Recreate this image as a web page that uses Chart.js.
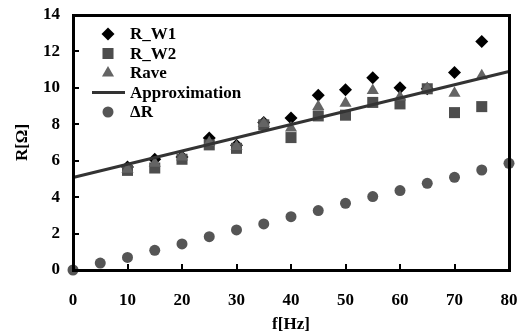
<!DOCTYPE html>
<html lang="en">
<head>
    <meta charset="UTF-8">
    <title>R vs f</title>
    <script src="https://cdn.jsdelivr.net/npm/chart.js"></script>
    <style>
        body {
            margin: 0;
            background: #ffffff;
        }
        #wrap {
            position: relative;
            width: 523px;
            height: 336px;
        }
        #wrap canvas {
            position: absolute;
            left: 0;
            top: 0;
        }
        .frame, .tick {
            position: absolute;
            box-sizing: border-box;
            pointer-events: none;
        }
        .frame {
            border: 3px solid #000;
        }
        .tick {
            background: #000;
        }
    </style>
</head>
<body>
    <div id="wrap">
        <canvas id="rChart" width="523" height="336"></canvas>
    </div>

    <script>
        // measured points
        const freq = [10, 15, 20, 25, 30, 35, 40, 45, 50, 55, 60, 65, 70, 75];
        const rW1 = [5.65, 6.08, 6.2, 7.25, 6.85, 8.1, 8.35, 9.6, 9.9, 10.55, 10.0, 9.95, 10.85, 12.55];
        const rW2 = [5.47, 5.6, 6.08, 6.87, 6.68, 7.97, 7.27, 8.46, 8.5, 9.2, 9.12, 9.95, 8.64, 8.97];
        const rAve = [5.53, 5.86, 6.2, 7.0, 6.78, 8.05, 7.8, 8.97, 9.16, 9.85, 9.5, 9.96, 9.71, 10.66];

        // linear approximation end points
        const fitFreq = [0, 80];
        const fitR = [5.08, 10.9];

        // delta R
        const dFreq = [0, 5, 10, 15, 20, 25, 30, 35, 40, 45, 50, 55, 60, 65, 70, 75, 80];
        const deltaR = [0, 0.38, 0.69, 1.08, 1.43, 1.83, 2.2, 2.53, 2.93, 3.26, 3.66, 4.03, 4.36, 4.76, 5.09, 5.49, 5.86];

        const FONT = "'Liberation Serif', 'Times New Roman', serif";
        const boldFont = { family: FONT, size: 17, weight: 'bold' };

        function pts(xs, ys) {
            return xs.map((x, i) => ({ x: x, y: ys[i] }));
        }

        function noPad(s) {
            s.paddingLeft = 0;
            s.paddingRight = 0;
            s.paddingTop = 0;
            s.paddingBottom = 0;
        }

        function drawMarker(g, style, x, y, r, color) {
            g.save();
            g.fillStyle = color;
            g.beginPath();
            if (style === 'rectRot') {
                g.moveTo(x - r, y);
                g.lineTo(x, y - r);
                g.lineTo(x + r, y);
                g.lineTo(x, y + r);
            } else if (style === 'rect') {
                const s = Math.SQRT1_2 * r;
                g.rect(x - s, y - s, 2 * s, 2 * s);
            } else if (style === 'triangle') {
                const a = 2 * Math.PI / 3;
                for (let k = 0; k < 3; k++) {
                    const px = x + Math.sin(a * k) * r;
                    const py = y - Math.cos(a * k) * r;
                    if (k === 0) g.moveTo(px, py); else g.lineTo(px, py);
                }
            } else {
                g.arc(x, y, r, 0, Math.PI * 2);
            }
            g.closePath();
            g.fill();
            g.restore();
        }

        // legend in the top-left of the plot
        const legendPlugin = {
            id: 'boxLegend',
            afterDraw(chart) {
                const g = chart.ctx;
                g.save();
                g.font = 'bold 17px ' + FONT;
                g.textBaseline = 'middle';
                let y = 34;
                chart.data.datasets.forEach(d => {
                    if (d.showLine) {
                        g.fillStyle = d.borderColor;
                        g.fillRect(92, y - 1.5, 33, 3);
                    } else {
                        drawMarker(g, d.pointStyle, 108, y, d.pointRadius, d.backgroundColor);
                    }
                    g.fillStyle = '#000';
                    g.fillText(d.label, 130, y + 1);
                    y += 19.5;
                });
                g.restore();
            }
        };

        const chart = new Chart(document.getElementById('rChart').getContext('2d'), {
            type: 'scatter',
            data: {
                datasets: [
                    {
                        label: 'R_W1',
                        data: pts(freq, rW1),
                        pointStyle: 'rectRot',
                        pointRadius: 6.5,
                        backgroundColor: '#000000',
                        borderWidth: 0,
                        order: 5,
                        clip: false
                    },
                    {
                        label: 'R_W2',
                        data: pts(freq, rW2),
                        pointStyle: 'rect',
                        pointRadius: 7.8,
                        backgroundColor: '#4d4d4d',
                        borderWidth: 0,
                        order: 4,
                        clip: false
                    },
                    {
                        label: 'Rave',
                        data: pts(freq, rAve),
                        pointStyle: 'triangle',
                        pointRadius: 7,
                        backgroundColor: '#646464',
                        borderWidth: 0,
                        order: 3,
                        clip: false
                    },
                    {
                        label: 'Approximation',
                        data: pts(fitFreq, fitR),
                        showLine: true,
                        borderColor: '#333333',
                        backgroundColor: '#333333',
                        borderWidth: 3,
                        pointRadius: 0,
                        order: 2,
                        clip: false
                    },
                    {
                        label: '\u0394R',
                        data: pts(dFreq, deltaR),
                        pointStyle: 'circle',
                        pointRadius: 5.5,
                        backgroundColor: '#555555',
                        borderWidth: 0,
                        order: 1,
                        clip: false
                    }
                ]
            },
            options: {
                responsive: false,
                animation: false,
                layout: {
                    padding: { top: 15, right: 14, left: 0, bottom: 0 }
                },
                plugins: {
                    legend: { display: false },
                    tooltip: { enabled: false }
                },
                scales: {
                    x: {
                        type: 'linear',
                        min: 0,
                        max: 80,
                        afterFit: s => { s.height = 66; noPad(s); },
                        ticks: {
                            stepSize: 10,
                            padding: 20,
                            color: '#000',
                            maxRotation: 0,
                            autoSkip: false,
                            font: boldFont
                        },
                        grid: { display: false, drawTicks: false },
                        border: { display: false },
                        title: {
                            display: true,
                            text: 'f[Hz]',
                            color: '#000',
                            padding: { top: 0, bottom: 1 },
                            font: boldFont
                        }
                    },
                    y: {
                        min: 0,
                        max: 14,
                        afterFit: s => { s.width = 73; noPad(s); },
                        ticks: {
                            stepSize: 2,
                            padding: 13,
                            color: '#000',
                            font: boldFont
                        },
                        grid: { display: false, drawTicks: false },
                        border: { display: false },
                        title: {
                            display: true,
                            text: 'R[\u03A9]',
                            color: '#000',
                            padding: { top: 12, bottom: 0 },
                            font: boldFont
                        }
                    }
                }
            },
            plugins: [legendPlugin]
        });

        // box round the plot and inward tick marks, placed from the chart's own scales
        function addBox() {
            const wrap = document.getElementById('wrap');
            const a = chart.chartArea;
            const xs = chart.scales.x;
            const ys = chart.scales.y;

            const frame = document.createElement('div');
            frame.className = 'frame';
            frame.style.left = (a.left - 1.5) + 'px';
            frame.style.top = (a.top - 1.5) + 'px';
            frame.style.width = (a.right - a.left + 3) + 'px';
            frame.style.height = (a.bottom - a.top + 3) + 'px';
            wrap.appendChild(frame);

            xs.ticks.forEach(t => {
                const d = document.createElement('div');
                d.className = 'tick';
                d.style.left = (xs.getPixelForValue(t.value) - 1) + 'px';
                d.style.top = (a.bottom - 6) + 'px';
                d.style.width = '2px';
                d.style.height = '6px';
                wrap.appendChild(d);
            });
            ys.ticks.forEach(t => {
                const d = document.createElement('div');
                d.className = 'tick';
                d.style.left = a.left + 'px';
                d.style.top = (ys.getPixelForValue(t.value) - 1) + 'px';
                d.style.width = '6px';
                d.style.height = '2px';
                wrap.appendChild(d);
            });
        }

        addBox();
    </script>
</body>
</html>
